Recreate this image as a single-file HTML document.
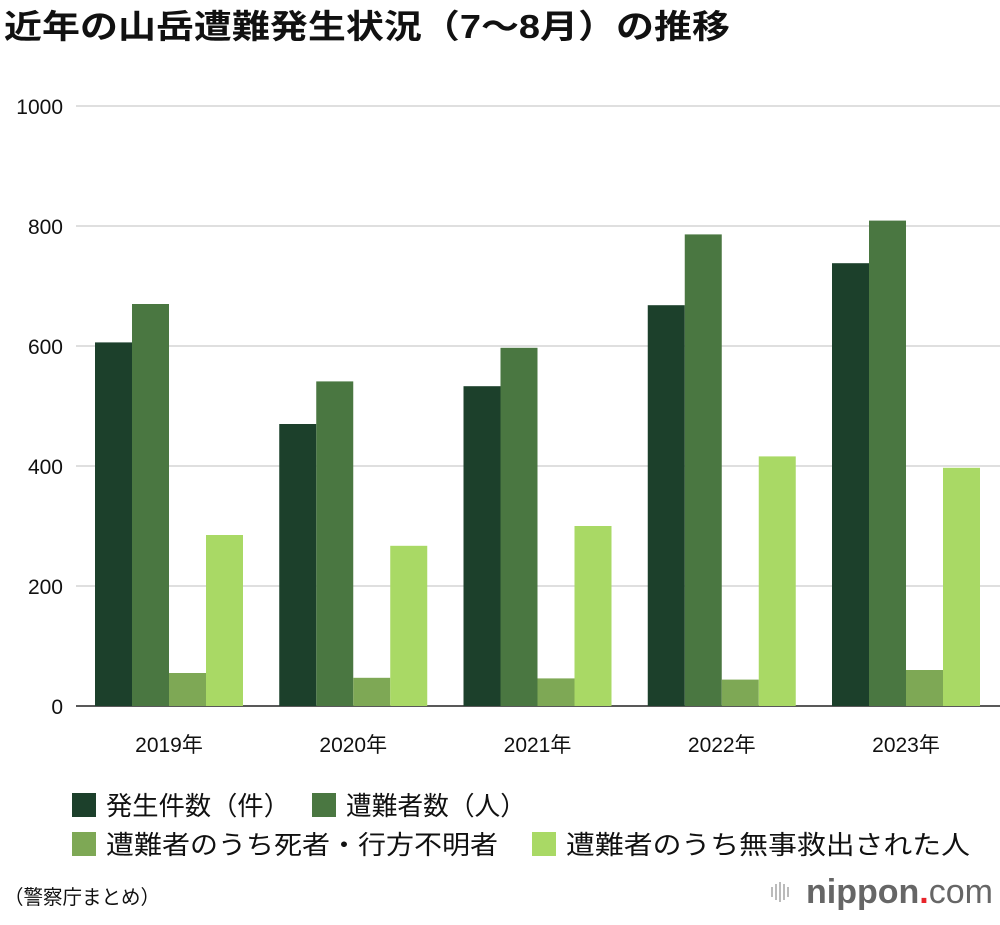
<!DOCTYPE html>
<html><head><meta charset="utf-8">
<style>
body{margin:0;background:#fff;width:1000px;height:920px;overflow:hidden;font-family:"Liberation Sans","Noto Sans CJK JP",sans-serif;}
</style></head>
<body>
<svg id="chart" width="1000" height="920" xmlns="http://www.w3.org/2000/svg" font-family="Liberation Sans, Noto Sans CJK JP, sans-serif">
<text x="4" y="38" font-size="33" font-weight="bold" fill="#111" textLength="726" lengthAdjust="spacingAndGlyphs">近年の山岳遭難発生状況（7〜8月）の推移</text>
<g id="grid"></g>
<g id="bars"></g>
<g id="xlabels"></g>
<g font-size="26" fill="#111">
<rect x="72" y="793" width="24" height="24" fill="#1c402b"/>
<text x="106" y="815" textLength="184" lengthAdjust="spacingAndGlyphs">発生件数（件）</text>
<rect x="312" y="793" width="24" height="24" fill="#4a7741"/>
<text x="346" y="815" textLength="180" lengthAdjust="spacingAndGlyphs">遭難者数（人）</text>
<rect x="72" y="832" width="24" height="24" fill="#7ea855"/>
<text x="106" y="854" textLength="392" lengthAdjust="spacingAndGlyphs">遭難者のうち死者・行方不明者</text>
<rect x="532" y="832" width="24" height="24" fill="#a9d965"/>
<text x="566" y="854" textLength="404" lengthAdjust="spacingAndGlyphs">遭難者のうち無事救出された人</text>
</g>
<text x="4" y="904" font-size="20" fill="#111" textLength="156" lengthAdjust="spacingAndGlyphs">（警察庁まとめ）</text>
<g>
<g fill="#bbb"><rect x="771" y="887" width="2" height="10"/><rect x="775" y="884" width="2" height="16"/><rect x="779" y="882" width="2" height="20"/><rect x="783" y="884" width="2" height="16"/><rect x="787" y="887" width="2" height="10"/></g>
<text x="806" y="903" font-size="34" fill="#666" font-weight="bold">nippon<tspan fill="#e8242a">.</tspan><tspan font-weight="normal">com</tspan></text>
</g>
</svg>
<script>
const years=["2019年","2020年","2021年","2022年","2023年"];
const incidents=[606,470,533,668,738];
const victims=[670,541,597,786,809];
const deadMissing=[55,47,46,44,60];
const rescued=[285,267,300,416,397];
const yTicks=[0,200,400,600,800,1000];
const NS="http://www.w3.org/2000/svg";
const y=v=>706-v*0.6;
const gx=i=>95+i*184.25;
const grid=document.getElementById('grid');
yTicks.forEach(t=>{
 const l=document.createElementNS(NS,'line');
 l.setAttribute('x1',76);l.setAttribute('x2',1000);l.setAttribute('y1',y(t));l.setAttribute('y2',y(t));
 l.setAttribute('stroke',t===0?'#222':'#ccc');l.setAttribute('stroke-width',t===0?1.5:1.2);
 
 
 grid.appendChild(l);
 const tx=document.createElementNS(NS,'text');
 tx.setAttribute('x',63);tx.setAttribute('y',y(t)+8);tx.setAttribute('text-anchor','end');
 tx.setAttribute('font-size','21');tx.setAttribute('fill','#111');tx.textContent=t;
 
 
 grid.appendChild(tx);
});
const series=[incidents,victims,deadMissing,rescued];
const colors=["#1c402b","#4a7741","#7ea855","#a9d965"];
const names=["incidents","victims","dead-missing","rescued"];
const bars=document.getElementById('bars');
years.forEach((yr,i)=>{
 series.forEach((s,k)=>{
  const r=document.createElementNS(NS,'rect');
  r.setAttribute('x',gx(i)+k*37);r.setAttribute('width',37);
  r.setAttribute('y',y(s[i]));r.setAttribute('height',706-y(s[i]));
  r.setAttribute('fill',colors[k]);
  
  
  bars.appendChild(r);
 });
 const t=document.createElementNS(NS,'text');
 t.setAttribute('x',gx(i)+74);t.setAttribute('y',752);t.setAttribute('text-anchor','middle');
 t.setAttribute('font-size','21');t.setAttribute('fill','#111');t.textContent=yr;
 
 
 document.getElementById('xlabels').appendChild(t);
});
</script>
</body></html>
